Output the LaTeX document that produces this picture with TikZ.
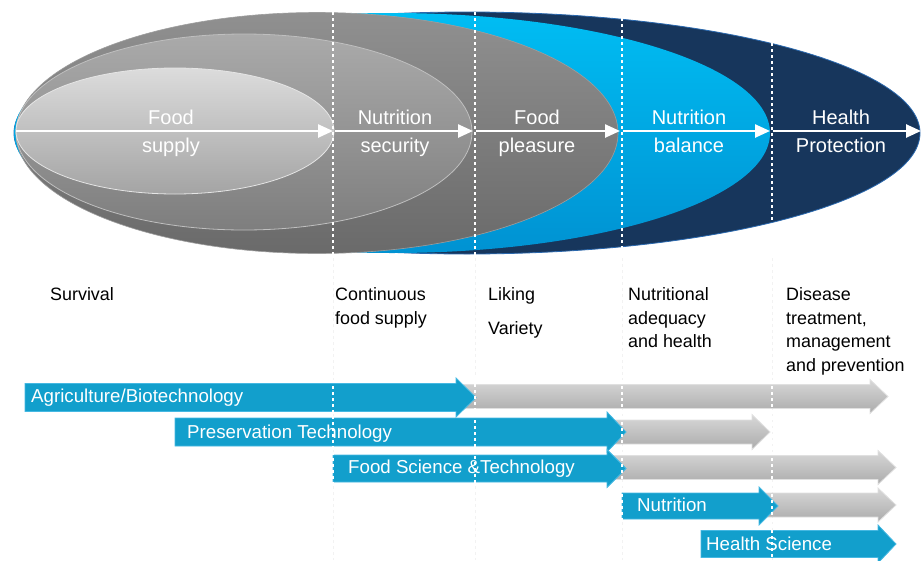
\documentclass[tikz,border=0pt]{standalone}
\usepackage{fontspec}
\setmainfont{Liberation Sans}
\usetikzlibrary{arrows.meta,shapes.geometric}
\definecolor{navy}{HTML}{17365C}
\definecolor{navyedge}{HTML}{2A68AE}
\definecolor{cyantop}{HTML}{00BDF3}
\definecolor{cyanbot}{HTML}{0092D2}
\definecolor{dgtop}{HTML}{909090}
\definecolor{dgbot}{HTML}{6A6A6A}
\definecolor{mgtop}{HTML}{AAAAAA}
\definecolor{mgbot}{HTML}{7E7E7E}
\definecolor{lgtop}{HTML}{DCDCDC}
\definecolor{lgbot}{HTML}{A4A4A4}
\definecolor{arrblue}{HTML}{129FCC}
\definecolor{arrblueedge}{HTML}{45B8E2}
\definecolor{arrgraytop}{HTML}{D8D8D8}
\definecolor{arrgraybot}{HTML}{ABABAB}
\newcommand\blockarr[7]{% style, x1, tip, yc, head start, half body, half head
  \path[#1] (#2,{#4-#6}) -- (#5,{#4-#6}) -- (#5,{#4-#7}) -- (#3,#4) -- (#5,{#4+#7}) -- (#5,{#4+#6}) -- (#2,{#4+#6}) -- cycle;}
\tikzset{
  ell/.style={ellipse, inner sep=0pt, minimum width=#1},
  wlab/.style={text=white, font=\fontsize{20}{28}\selectfont, align=center, anchor=north, inner sep=0pt},
  blab/.style={text=black, font=\fontsize{17.9}{23.4}\selectfont, align=left, anchor=north west, inner sep=0pt},
  alab/.style={text=white, font=\fontsize{18.7}{22}\selectfont, anchor=base west, inner sep=0pt},
  flow/.style={white, line width=2.5pt, -{Triangle[length=15pt,width=13pt]}},
  sepline/.style={white, line width=1.3pt, dash pattern=on 3pt off 3pt},
  faint/.style={black!5, line width=1pt, dash pattern=on 3pt off 3pt},
  bluearr/.style={fill=arrblue, draw=arrblueedge, line width=0.8pt},
  grayarr/.style={top color=arrgraytop, bottom color=arrgraybot, draw=white!88!black, line width=0.8pt},
}
\begin{document}
\begin{tikzpicture}[x=1pt,y=-1pt]
\useasboundingbox (0,0) rectangle (923,560);
% ellipses
\node[ell=906pt, minimum height=242pt, fill=navy, draw=navyedge, line width=0.8pt] (health) at (467,133) {};
\node[ell=756pt, minimum height=240pt, top color=cyantop, bottom color=cyanbot] (balance) at (392,133) {};
\node[ell=602pt, minimum height=241pt, top color=dgtop, bottom color=dgbot, draw=black!38, line width=0.6pt] (pleasure) at (317,133) {};
\node[ell=456pt, minimum height=196pt, top color=mgtop, bottom color=mgbot, draw=black!25, line width=0.8pt] (security) at (244,132) {};
\node[ell=318pt, minimum height=126pt, top color=lgtop, bottom color=lgbot, draw=black!10, line width=0.8pt] (supply) at (175,131) {};
% separators in ellipses
\coordinate (s1t) at (333,12);  \coordinate (s1b) at (333,255);
\coordinate (s2t) at (475,12);  \coordinate (s2b) at (475,255);
\coordinate (s3t) at (622,18);  \coordinate (s3b) at (622,248);
\coordinate (s4t) at (772,43);  \coordinate (s4b) at (772,223);
\foreach \i in {1,2,3,4} \draw[sepline] (s\i t) -- (s\i b);
% flow arrows
\coordinate (f0) at (16,131);
\coordinate (f1) at (333,131);
\coordinate (f1b) at (335,131);
\coordinate (f2) at (473,131);
\coordinate (f2b) at (476,131);
\coordinate (f3) at (620,131);
\coordinate (f3b) at (623,131);
\coordinate (f4) at (770,131);
\coordinate (f4b) at (773,131);
\coordinate (f5) at (921,131);
\draw[flow] (f0) -- (f1);
\draw[flow] (f1b) -- (f2);
\draw[flow] (f2b) -- (f3);
\draw[flow] (f3b) -- (f4);
\draw[flow] (f4b) -- (f5);
% ellipse labels
\node[wlab] (l1) at (171,109.7) {Food\\supply};
\node[wlab] (l2) at (395,109.7) {Nutrition\\security};
\node[wlab] (l3) at (537,109.7) {Food\\pleasure};
\node[wlab] (l4) at (689,109.7) {Nutrition\\balance};
\node[wlab] (l5) at (841,109.7) {Health\\Protection};
% lower separators (faint)
\foreach \x in {333,475,622,772} \draw[faint] (\x,258) -- (\x,560);
% descriptions
\node[blab] (surv) at (50,287.7) {Survival};
\node[blab] (cont) at (335,287.7) {Continuous\\food supply};
\node[blab] (lik) at (488,287.7) {Liking};
\node[blab] (var) at (488,321.2) {Variety};
\node[blab] (nutad) at (628,287.7) {Nutritional\\adequacy\\and health};
\node[blab] (dis) at (786,287.7) {Disease\\treatment,\\management\\and prevention};
% block arrows
\blockarr{grayarr}{460}{888}{396.5}{870}{12}{17}
\blockarr{bluearr}{25}{476}{397.5}{456}{14}{19.5}
\blockarr{grayarr}{605}{770}{432}{752}{12}{17.5}
\blockarr{bluearr}{175}{626}{432}{607}{14}{20}
\blockarr{grayarr}{605}{896}{467.5}{878}{12}{17}
\blockarr{bluearr}{333}{626}{468.5}{607}{13.5}{19}
\blockarr{grayarr}{760}{896}{505}{878}{12}{17}
\blockarr{bluearr}{622}{778}{506}{759}{13}{19}
\blockarr{bluearr}{701}{896}{544}{878}{13.5}{19}
% white separators over arrows
\draw[sepline] (333,380) -- (333,485);
\draw[sepline] (475,378) -- (475,485);
\draw[sepline] (622,380) -- (622,520);
\draw[sepline] (772,380) -- (772,560);
% arrow labels
\node[alab] (a1) at (31,402.5) {Agriculture/Biotechnology};
\node[alab] (a2) at (187,438.5) {Preservation Technology};
\node[alab] (a3) at (348,473.5) {Food Science \&Technology};
\node[alab] (a4) at (637,511.5) {Nutrition};
\node[alab] (a5) at (706,550.5) {Health Science};
\end{tikzpicture}
\end{document}
